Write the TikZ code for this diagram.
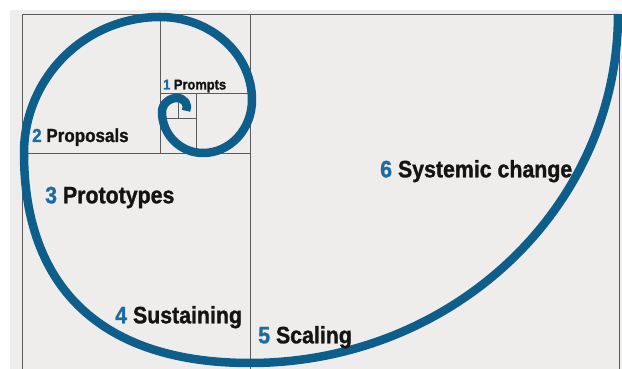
\documentclass[tikz,border=0pt]{standalone}
\usepackage{fontspec}
\newfontfamily\labfont[FakeStretch=0.9, BoldFeatures={FakeBold=1.2}]{Liberation Sans}
\definecolor{spiralblue}{RGB}{14,94,140}
\definecolor{numblue}{RGB}{28,108,162}
\definecolor{panelgray}{RGB}{239,237,235}
\definecolor{gridgray}{RGB}{90,90,90}
\definecolor{txtblack}{RGB}{20,20,20}
\tikzset{
  gridl/.style={draw=gridgray, line width=0.9pt},
  spiralline/.style={draw=spiralblue, line width=8.5pt, line cap=butt, line join=round},
  lab/.style={anchor=base west, inner sep=0pt, text=txtblack, font=\labfont\bfseries}
}
\newcommand{\numb}[1]{\textcolor{numblue}{#1}}
\begin{document}
\begin{tikzpicture}[x=1pt,y=1pt]
\useasboundingbox (0,0) rectangle (622,369);
\fill[white] (0,0) rectangle (622,369);
\fill[panelgray] (10,0) rectangle (622,359);
% grid of squares
\draw[gridl] (22,0) -- (22,355) -- (619,355) -- (619,0);
\draw[gridl] (160,355) -- (160,216);
\draw[gridl] (250,355) -- (250,0);
\draw[gridl] (22,216) -- (250,216);
\draw[gridl] (160,276) -- (250,276);
\draw[gridl] (196,276) -- (196,216);
\draw[gridl] (160,251) -- (196,251);
\draw[gridl] (178,276) -- (178,251);
% spiral
\draw[spiralline] (618,355)
  arc[start angle=0, end angle=-90, x radius=368, y radius=349]
  .. controls (103,6) and (24,80) .. (24,216)
  arc[start angle=-180, end angle=-270, x radius=136, y radius=136]
  arc[start angle=-270, end angle=-360, x radius=92, y radius=83]
  arc[start angle=0, end angle=-90, x radius=49, y radius=53]
  arc[start angle=-90, end angle=-180, x radius=41, y radius=41]
  arc[start angle=-180, end angle=-270, x radius=15, y radius=14]
  arc[start angle=90, end angle=-25, x radius=10, y radius=9];
% labels
\node[lab, font=\labfont\bfseries\fontsize{14.3}{17}\selectfont] (l1) at (163,279.5) {\numb{1} Prompts};
\node[lab, font=\labfont\bfseries\fontsize{18.9}{23}\selectfont] (l2) at (32,227) {\numb{2} Proposals};
\node[lab, font=\labfont\bfseries\fontsize{23.7}{28}\selectfont] (l3) at (45,165.7) {\numb{3} Prototypes};
\node[lab, font=\labfont\bfseries\fontsize{23.7}{28}\selectfont] (l4) at (115,45.7) {\numb{4} Sustaining};
\node[lab, font=\labfont\bfseries\fontsize{23.7}{28}\selectfont] (l5) at (258,25.7) {\numb{5} Scaling};
\node[lab, font=\labfont\bfseries\fontsize{23.7}{28}\selectfont] (l6) at (380,191.7) {\numb{6} Systemic change};
\end{tikzpicture}
\end{document}
